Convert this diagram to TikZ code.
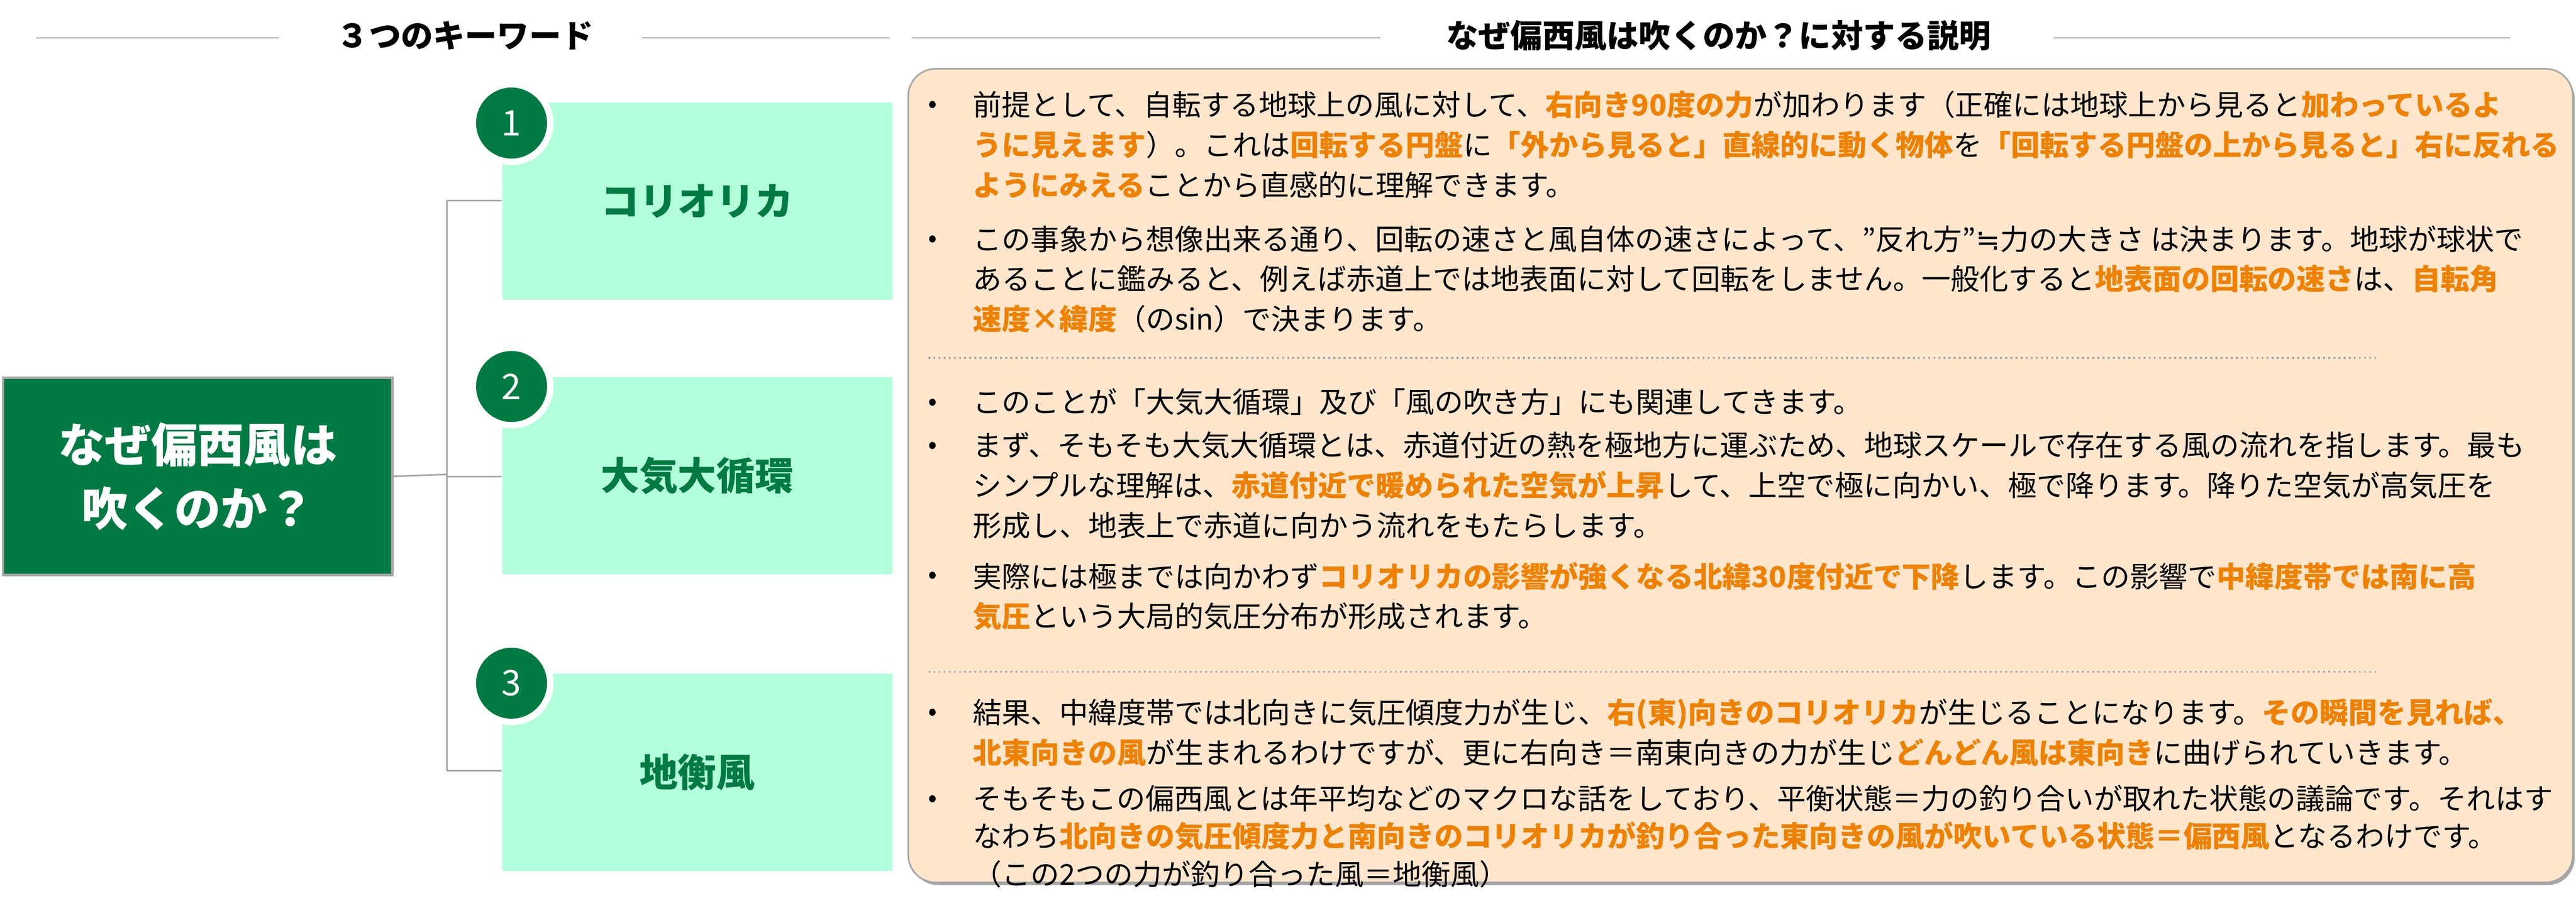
\documentclass[tikz,border=0pt]{standalone}
\usepackage{fontspec}
\setmainfont{Noto Sans CJK JP}
\newfontfamily\symfont{DejaVu Sans}
\definecolor{keygreen}{HTML}{007A43}
\definecolor{keymint}{HTML}{B3FFDC}
\definecolor{keyorange}{HTML}{EE8100}
\definecolor{panelfill}{HTML}{FFE6CC}
\definecolor{panelline}{HTML}{A6A6A6}
\newcommand\hl[1]{{\bfseries\color{keyorange}#1}}
\begin{document}
\begin{tikzpicture}[x=1cm,y=1cm]
      % Define styles for nodes
      \tikzset{
        keybox/.style={anchor=north west, rectangle, fill=keymint,
          minimum width=8.55cm, minimum height=4.33cm,
          font=\fontsize{24}{28}\selectfont\bfseries, text=keygreen},
        numdot/.style={circle, fill=keygreen, draw=white, line width=4pt,
          minimum size=1.7cm, inner sep=0pt, text=white,
          font=\fontsize{22}{24}\selectfont\itshape\rmfamily},
        itemtext/.style={anchor=north west, align=left, inner sep=0pt,
          font=\fontsize{18}{25}\selectfont},
        bulletdot/.style={anchor=base west, inner sep=0pt,
          font=\fontsize{16.5}{25}\selectfont},
        headtext/.style={font=\fontsize{20}{24}\selectfont\bfseries},
        headline/.style={draw=black!70, line width=0.6pt}
      }
      \useasboundingbox (0,0) rectangle (56.5,-19.92);

      % Headers
      \node[headtext] (kwhead) at (10.2,-0.78) {３つのキーワード};
      \draw[headline] (0.8,-0.83) -- (6.12,-0.83);
      \draw[headline] (14.09,-0.83) -- (19.51,-0.83);
      \node[headtext] (exhead) at (37.7,-0.78) {なぜ偏西風は吹くのか？に対する説明};
      \draw[headline] (20.0,-0.83) -- (30.27,-0.83);
      \draw[headline] (45.04,-0.83) -- (55.05,-0.83);

      % Main question
      \node[rectangle, fill=keygreen, draw=panelline, line width=1.5pt,
        minimum width=8.54cm, minimum height=4.33cm, anchor=north west,
        text=white, align=center, font=\fontsize{29}{40}\selectfont\bfseries]
        (question) at (0.04,-8.26) {なぜ偏西風は\\吹くのか？};

      % Keywords
      \node[keybox] (coriolis) at (11.01,-2.24) {コリオリカ};
      \node[keybox] (circulation) at (11.01,-8.26) {大気大循環};
      \node[keybox] (geostrophic) at (11.01,-14.77) {地衡風};
      \node[numdot] (num1) at (11.22,-2.70) {1};
      \node[numdot] (num2) at (11.22,-8.48) {2};
      \node[numdot] (num3) at (11.22,-14.99) {3};

      % Connections
      \coordinate (trunk) at (9.8,-10.41);
      \draw[panelline, line width=1pt] (question.east) -- (trunk);
      \draw[panelline, line width=1pt] (trunk |- 0,-4.40) -- (trunk |- 0,-16.91);
      \draw[panelline, line width=1pt] (trunk |- 0,-4.40) -- (coriolis.west |- 0,-4.40);
      \draw[panelline, line width=1pt] (trunk |- 0,-10.46) -- (circulation.west |- 0,-10.46);
      \draw[panelline, line width=1pt] (trunk |- 0,-16.91) -- (geostrophic.west |- 0,-16.91);

      % Explanation panel
      \fill[black!35, rounded corners=0.6cm] (19.98,-1.57) rectangle (56.47,-19.42);
      \draw[panelline, fill=panelfill, line width=1pt, rounded corners=0.6cm]
        (19.92,-1.51) rectangle (56.43,-19.36);
      \draw[panelline, line width=1.2pt, dotted] (20.36,-7.85) -- (52.17,-7.85);
      \draw[panelline, line width=1.2pt, dotted] (20.36,-14.74) -- (52.17,-14.74);

      % Bullets
      \foreach \yb in {2.47,5.42,9.0,9.95,12.8,15.8,17.7}
        \node[bulletdot] at (20.35,-\yb) {•};

      % Bullet texts
      \node[itemtext] (item1) at (21.33,-1.99) {前提として、自転する地球上の風に対して、\hl{右向き90度の力}が加わります（正確には地球上から見ると\hl{加わっているよ}\\
        \hl{うに見えます}）。これは\hl{回転する円盤}に\hl{「外から見ると」直線的に動く物体}を\hl{「回転する円盤の上から見ると」右に反れる}\\
        \hl{ようにみえる}ことから直感的に理解できます。};
      \node[itemtext] (item2) at (21.33,-4.94) {この事象から想像出来る通り、回転の速さと風自体の速さによって、”反れ方”{\symfont ≒}力の大きさ は決まります。地球が球状で\\
        あることに鑑みると、例えば赤道上では地表面に対して回転をしません。一般化すると\hl{地表面の回転の速さ}は、\hl{自転角}\\
        \hl{速度×緯度}（のsin）で決まります。};
      \node[itemtext] (item3) at (21.33,-8.52) {このことが「大気大循環」及び「風の吹き方」にも関連してきます。};
      \node[itemtext] (item4) at (21.33,-9.47) {まず、そもそも大気大循環とは、赤道付近の熱を極地方に運ぶため、地球スケールで存在する風の流れを指します。最も\\
        シンプルな理解は、\hl{赤道付近で暖められた空気が上昇}して、上空で極に向かい、極で降ります。降りた空気が高気圧を\\
        形成し、地表上で赤道に向かう流れをもたらします。};
      \node[itemtext] (item5) at (21.33,-12.32) {実際には極までは向かわず\hl{コリオリカの影響が強くなる北緯30度付近で下降}します。この影響で\hl{中緯度帯では南に高}\\
        \hl{気圧}という大局的気圧分布が形成されます。};
      \node[itemtext] (item6) at (21.33,-15.32) {結果、中緯度帯では北向きに気圧傾度力が生じ、\hl{右(東)向きのコリオリカ}が生じることになります。\hl{その瞬間を見れば、}\\
        \hl{北東向きの風}が生まれるわけですが、更に右向き＝南東向きの力が生じ\hl{どんどん風は東向き}に曲げられていきます。};
      \node[itemtext, font=\fontsize{18}{23.5}\selectfont] (item7) at (21.33,-17.22) {そもそもこの偏西風とは年平均などのマクロな話をしており、平衡状態＝力の釣り合いが取れた状態の議論です。それはす\\
        なわち\hl{北向きの気圧傾度力と南向きのコリオリカが釣り合った東向きの風が吹いている状態＝偏西風}となるわけです。\\
        （この2つの力が釣り合った風＝地衡風）};
\end{tikzpicture}
\end{document}
